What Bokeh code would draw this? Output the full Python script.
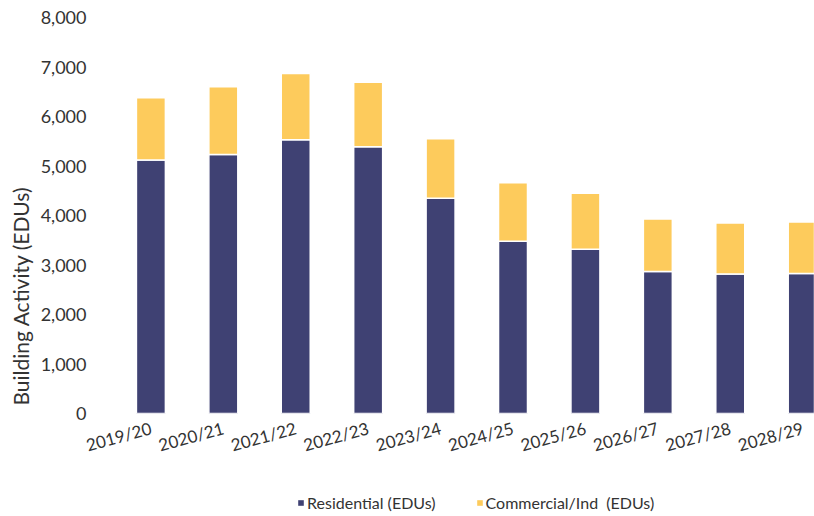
import math
from bokeh.plotting import figure
from bokeh.layouts import column
from bokeh.models import (ColumnDataSource, Range1d, FixedTicker, Title, Legend,
                          LegendItem, NumeralTickFormatter)
from bokeh.embed import file_html
from bokeh.resources import INLINE

# ---- data ----
years = ["2019/20", "2020/21", "2021/22", "2022/23", "2023/24",
         "2024/25", "2025/26", "2026/27", "2027/28", "2028/29"]
residential = [5120, 5230, 5530, 5390, 4350, 3480, 3320, 2870, 2820, 2830]
commercial = [1260, 1370, 1340, 1300, 1200, 1180, 1130, 1060, 1030, 1040]
series_names = ["Residential (EDUs)", "Commercial/Ind  (EDUs)"]
y_ticks = [0, 1000, 2000, 3000, 4000, 5000, 6000, 7000, 8000]

xs = list(range(1, len(years) + 1))
source = ColumnDataSource(dict(x=xs, res=residential, com=commercial))

FONT = "Lato"
TXT = "#333333"
NAVY = "#3F4173"
GOLD = "#FDCB5C"
COLORS = [NAVY, GOLD]

p = figure(width=814, height=476, output_backend="svg", toolbar_location=None,
           x_range=Range1d(0.373, 10.163), y_range=Range1d(0, 8000),
           min_border_left=95, min_border_right=0, min_border_top=17, min_border_bottom=63)
p.outline_line_color = None
p.grid.grid_line_color = None

r = p.vbar_stack(["res", "com"], x="x", width=0.4, source=source,
                 fill_color=COLORS, line_color="white", line_width=1.5)

# axes
p.yaxis.ticker = FixedTicker(ticks=y_ticks)
p.yaxis.formatter = NumeralTickFormatter(format="0,0")
p.xaxis.ticker = FixedTicker(ticks=xs)
p.xaxis.major_label_overrides = {x: y for x, y in zip(xs, years)}
p.xaxis.major_label_orientation = 0.27
for ax in (p.xaxis[0], p.yaxis[0]):
    ax.axis_line_color = None
    ax.major_tick_line_color = None
    ax.minor_tick_line_color = None
    ax.major_label_text_font = FONT
    ax.major_label_text_color = TXT
p.yaxis.major_label_text_font_size = "18px"
p.yaxis.major_label_standoff = 13
p.xaxis.major_label_text_font_size = "17px"
p.xaxis.major_label_standoff = 8

# y-axis title (sits low, as in the original)
p.add_layout(Title(text="Building Activity (EDUs)", align="left", offset=8,
                   text_font=FONT, text_font_size="21px", text_color=TXT,
                   text_font_style="normal"), "left")

# ---- legend strip underneath ----
lg = figure(width=814, height=40, output_backend="svg", toolbar_location=None,
            x_range=Range1d(0, 1), y_range=Range1d(0, 1), min_border=0)
lg.axis.visible = False
lg.grid.grid_line_color = None
lg.outline_line_color = None
items = []
for name, col in zip(series_names, COLORS):
    # zero-height key bars: only their colour is used by the legend
    rr = lg.vbar(x=[0], top=[0], bottom=[0], width=0, fill_color=col, line_color=None)
    items.append(LegendItem(label=name, renderers=[rr]))
legend = Legend(items=items, orientation="horizontal", location=(192, 4),
                label_text_font=FONT, label_text_font_size="16px", label_text_color=TXT,
                glyph_width=7, glyph_height=7, label_standoff=3, spacing=40,
                border_line_color=None, background_fill_alpha=0, padding=0, margin=0)
lg.add_layout(legend, "center")

layout = column(p, lg, spacing=0)
open("out.html", "w").write(file_html(layout, INLINE))
